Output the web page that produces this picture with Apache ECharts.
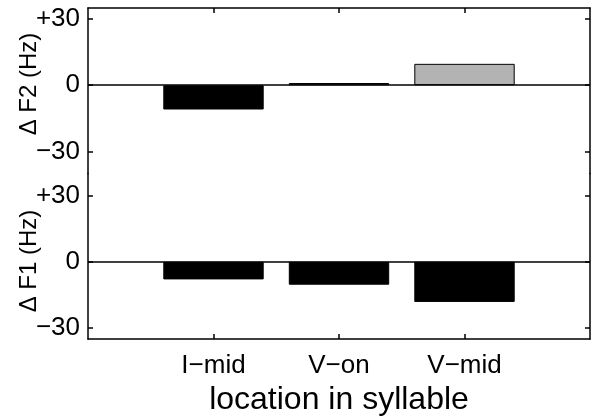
<!DOCTYPE html>
<html>
<head>
<meta charset="utf-8">
<script src="https://cdn.jsdelivr.net/npm/echarts@6/dist/echarts.min.js"></script>
<style>
  html, body { margin: 0; padding: 0; background: #fff; }
  #chart { width: 593px; height: 417px; }
</style>
</head>
<body>
<div id="chart"></div>
<script>
// ---- data ----
const categories = ['I\u2212mid', 'V\u2212on', 'V\u2212mid'];
const deltaF2 = [-11, 1, 9.7];
const deltaF1 = [-8, -10.4, -18.2];
const yTickValues = [-30, 0, 30];
const yTickLabels = ['\u221230', '0', '+30'];
const xTitle = 'location in syllable';
const f2Title = '\u0394 F2 (Hz)';
const f1Title = '\u0394 F1 (Hz)';

// ---- styles (kept apart from data) ----
const f2Fill = ['#000000', '#b3b3b3', '#b3b3b3'];
const f1Fill = ['#000000', '#000000', '#000000'];
const FONT = '"Liberation Sans", Arial, Helvetica, sans-serif';
const LINE = { color: '#000', width: 1.5 };

const axisCats = [''].concat(categories, ['']);
const tickSkipEnds = (i) => i > 0 && i < axisCats.length - 1;
const pad = (arr, fills) => [{ value: '-' }].concat(
  arr.map((v, i) => ({ value: v, itemStyle: { color: fills[i] } })),
  [{ value: '-' }]
);

function yAx(gridIndex, min, max, right) {
  return {
    type: 'value', gridIndex, min, max,
    position: right ? 'right' : 'left',
    axisLine: { show: true, onZero: false, lineStyle: LINE },
    axisTick: { show: true, inside: true, length: 5, lineStyle: LINE, customValues: yTickValues },
    axisLabel: {
      show: !right, customValues: yTickValues, margin: 8,
      color: '#000', fontSize: 26, fontFamily: FONT,
      formatter: (v) => yTickLabels[yTickValues.indexOf(v)]
    },
    splitLine: { show: false }
  };
}

const zeroLine = {
  silent: true, symbol: 'none', label: { show: false },
  lineStyle: { color: '#000', width: 1.5, type: 'solid' },
  data: [{ yAxis: 0 }]
};

const chart = echarts.init(document.getElementById('chart'), null, { renderer: 'canvas' });
chart.setOption({
  animation: false,
  backgroundColor: '#fff',
  grid: [
    { left: 88, right: 3, top: 8, height: 165.5, containLabel: false, outerBoundsMode: 'none' },
    { left: 88, right: 3, top: 173.5, height: 165.5, containLabel: false, outerBoundsMode: 'none' }
  ],
  xAxis: [
    {
      type: 'category', gridIndex: 0, data: axisCats, boundaryGap: false, position: 'top',
      axisLine: { show: true, onZero: false, lineStyle: LINE },
      axisTick: { show: true, inside: true, length: 5, lineStyle: LINE, interval: tickSkipEnds },
      axisLabel: { show: false }, splitLine: { show: false }
    },
    {
      type: 'category', gridIndex: 1, data: axisCats, boundaryGap: false, position: 'bottom',
      axisLine: { show: true, onZero: false, lineStyle: LINE },
      axisTick: { show: true, inside: true, length: 5, lineStyle: LINE, interval: tickSkipEnds },
      axisLabel: { show: true, interval: 0, margin: 14, color: '#000', fontSize: 26, fontFamily: FONT },
      splitLine: { show: false },
      name: xTitle, nameLocation: 'middle', nameGap: 45,
      nameTextStyle: { color: '#000', fontSize: 32, fontFamily: FONT }
    }
  ],
  yAxis: [
    yAx(0, -40, 35, false),
    yAx(0, -40, 35, true),
    yAx(1, -35, 40, false),
    yAx(1, -35, 40, true)
  ],
  graphic: [
    { type: 'text', x: 29, y: 84, rotation: Math.PI / 2,
      style: { text: f2Title, fill: '#000', font: '24px ' + FONT, align: 'center', verticalAlign: 'middle' } },
    { type: 'text', x: 29, y: 261, rotation: Math.PI / 2,
      style: { text: f1Title, fill: '#000', font: '24px ' + FONT, align: 'center', verticalAlign: 'middle' } }
  ],
  series: [
    {
      type: 'bar', xAxisIndex: 0, yAxisIndex: 0, barWidth: '80%',
      itemStyle: { borderColor: '#000', borderWidth: 1 },
      data: pad(deltaF2, f2Fill), markLine: zeroLine
    },
    {
      type: 'bar', xAxisIndex: 1, yAxisIndex: 2, barWidth: '80%',
      itemStyle: { borderColor: '#000', borderWidth: 1 },
      data: pad(deltaF1, f1Fill), markLine: zeroLine
    }
  ]
});
</script>
</body>
</html>
